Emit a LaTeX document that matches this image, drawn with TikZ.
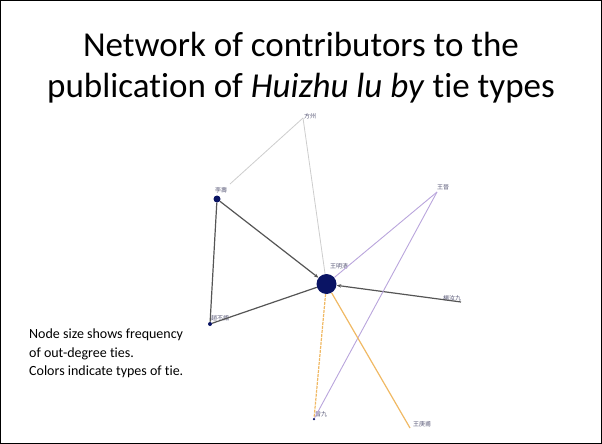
\documentclass[tikz,border=0pt]{standalone}
\usepackage{fontspec}
\setmainfont{Carlito}[Ligatures=NoCommon]
\newfontfamily\cjk{Noto Sans CJK SC}
\usetikzlibrary{arrows.meta}
\definecolor{navy}{RGB}{10,20,100}
\definecolor{darkedge}{RGB}{85,85,85}
\definecolor{lightedge}{RGB}{205,205,205}
\definecolor{purpleedge}{RGB}{185,165,220}
\definecolor{orangeedge}{RGB}{240,185,100}
\definecolor{lbl}{RGB}{90,90,120}
\begin{document}
\begin{tikzpicture}[x=1pt,y=-1pt,
  pt/.style={circle,fill=navy,inner sep=0pt,minimum size=#1},
  pt/.default=3pt,
  lab/.style={font=\cjk\fontsize{6}{7}\selectfont,text=lbl,inner sep=1pt},
  dk/.style={draw=darkedge,line width=1.2pt},
  lg/.style={draw=lightedge,line width=0.8pt},
  pu/.style={draw=purpleedge,line width=0.9pt},
  og/.style={draw=orangeedge,line width=1.2pt},
  tip/.style={-{Stealth[length=4.5pt,width=3.5pt]}}]
\useasboundingbox (0,0) rectangle (602,444);
\draw[black,line width=1.2pt] (0.6,0.6) rectangle (601.4,443.4);
% title
\node[font=\fontsize{35}{41}\selectfont,align=center] (title) at (301,68)
  {Network of contributors to the\\publication of \textit{Huizhu lu by} tie types};
% caption
\node[font=\fontsize{14}{18.5}\selectfont,align=left,anchor=north west,inner sep=0pt] (cap) at (29,329)
  {Node size shows frequency\\of out-degree ties.\\Colors indicate types of tie.};
% nodes
\coordinate (fz) at (303,118);
\coordinate (fzend) at (230,184);
\node[pt=7pt] (lz) at (217,199) {};
\coordinate (wj) at (437,192);
\node[pt=20pt] (c) at (326.5,284) {};
\node[pt=4pt] (zb) at (210,324) {};
\coordinate (yr) at (461,302);
\node[pt=2.5pt] (zj) at (314,419) {};
\coordinate (wg) at (410,428);
% labels
\node[lab] (lfz) at (310,116) {方州};
\node[lab] (llz) at (221,190) {李壽};
\node[lab] (lwj) at (443,187) {王晉};
\node[lab] (lc) at (339,266) {王明清};
\node[lab] (lzb) at (220,318) {趙不譾};
\node[lab] (lyr) at (452,298) {楊汝九};
\node[lab] (lzj) at (321,414) {曾九};
\node[lab] (lwg) at (422,424) {王庚甫};
% edges
\draw[lg] (fz) -- (fzend);
\draw[lg] (fz) -- (c);
\draw[dk,tip] (lz) -- (c);
\draw[dk] (lz) -- (zb);
\draw[dk] (zb) -- (c);
\draw[dk,tip] (yr) -- (c);
\draw[pu] (wj) -- (c);
\draw[pu] (wj) -- (zj);
\draw[og,dash pattern=on 3pt off 1pt] (c) -- (zj);
\draw[og] (c) -- (wg);
\end{tikzpicture}
\end{document}
